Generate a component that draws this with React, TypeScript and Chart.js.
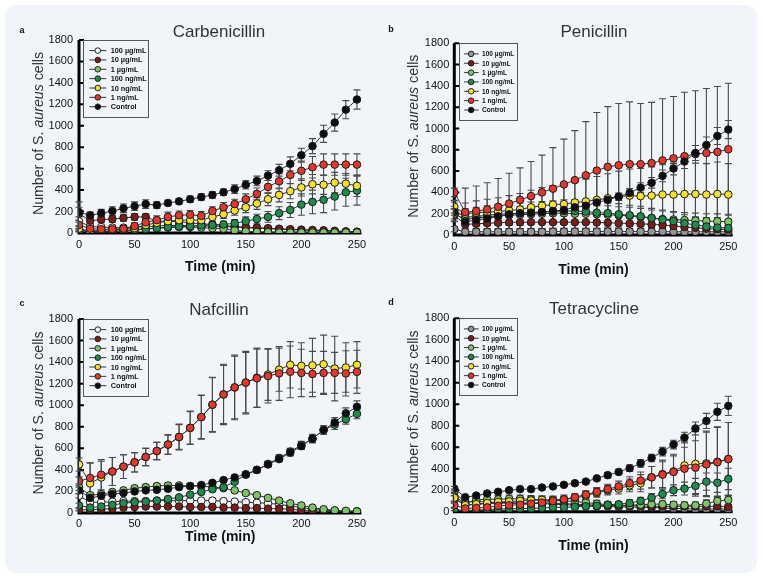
import React, { useEffect, useRef } from "react";
import { Chart, registerables } from "chart.js";

Chart.register(...registerables);

const FONT = "'Liberation Sans', Arial, Helvetica, sans-serif";

const TIME = [0, 10, 20, 30, 40, 50, 60, 70, 80, 90, 100, 110, 120, 130, 140, 150, 160, 170, 180, 190, 200, 210, 220, 230, 240, 250];
const X_TICKS = [0, 50, 100, 150, 200, 250];
const Y_TICKS = [0, 200, 400, 600, 800, 1000, 1200, 1400, 1600, 1800];
const SERIES_LABELS = ["100 µg/mL", "10 µg/mL", "1 µg/mL", "100 ng/mL", "10 ng/mL", "1 ng/mL", "Control"];
const PANEL_TITLES = ["Carbenicillin", "Penicillin", "Nafcillin", "Tetracycline"];
const PANEL_LETTERS = ["a", "b", "c", "d"];

// ---- a: Carbenicillin ----
const CARB_100UG = [110, 60, 55, 50, 50, 55, 60, 65, 70, 70, 70, 65, 65, 60, 55, 50, 45, 40, 35, 30, 30, 25, 20, 15, 12, 10];
const CARB_100UG_ERR = [40, 20, 20, 20, 20, 20, 20, 20, 20, 20, 20, 20, 20, 20, 20, 20, 15, 15, 15, 15, 15, 15, 12, 10, 10, 10];
const CARB_10UG = [180, 115, 125, 130, 140, 150, 150, 110, 110, 105, 95, 85, 80, 70, 60, 55, 50, 45, 40, 35, 30, 28, 25, 20, 15, 12];
const CARB_10UG_ERR = [60, 30, 30, 30, 30, 30, 30, 30, 30, 30, 30, 25, 25, 25, 25, 20, 20, 20, 20, 15, 15, 15, 15, 10, 10, 10];
const CARB_1UG = [30, 10, 10, 15, 20, 30, 40, 45, 50, 55, 55, 50, 45, 40, 25, 15, 10, 8, 5, 5, 5, 5, 5, 5, 5, 5];
const CARB_1UG_ERR = [15, 10, 10, 10, 10, 15, 15, 15, 15, 15, 15, 15, 15, 15, 10, 10, 8, 5, 5, 5, 5, 5, 5, 5, 5, 5];
const CARB_100NG = [25, 10, 10, 15, 20, 30, 35, 45, 55, 60, 65, 70, 75, 80, 90, 110, 130, 150, 185, 215, 265, 290, 310, 340, 380, 395];
const CARB_100NG_ERR = [15, 10, 10, 10, 10, 15, 15, 20, 20, 20, 25, 25, 25, 30, 35, 40, 45, 50, 60, 70, 100, 110, 120, 125, 130, 135];
const CARB_10NG = [40, 20, 25, 30, 35, 45, 75, 95, 110, 120, 120, 120, 150, 175, 210, 240, 275, 315, 355, 390, 425, 455, 450, 470, 460, 440];
const CARB_10NG_ERR = [20, 15, 15, 15, 15, 20, 25, 30, 35, 35, 35, 35, 40, 40, 45, 50, 55, 60, 65, 70, 80, 90, 90, 95, 95, 100];
const CARB_1NG = [75, 40, 35, 35, 40, 65, 100, 120, 150, 165, 170, 160, 205, 240, 270, 315, 365, 430, 482, 541, 580, 613, 638, 638, 638, 638];
const CARB_1NG_ERR = [40, 20, 20, 20, 20, 30, 35, 40, 45, 40, 40, 40, 40, 45, 45, 50, 55, 60, 70, 80, 90, 100, 100, 100, 100, 100];
const CARB_CONTROL = [195, 165, 185, 205, 230, 250, 270, 260, 280, 295, 315, 335, 355, 380, 410, 450, 485, 535, 585, 645, 725, 810, 925, 1030, 1150, 1245];
const CARB_CONTROL_ERR = [95, 30, 35, 40, 40, 40, 40, 30, 25, 25, 30, 30, 30, 30, 40, 40, 45, 45, 55, 65, 65, 70, 80, 80, 85, 90];

// ---- b: Penicillin ----
const PEN_100UG = [55, 30, 30, 30, 30, 30, 30, 30, 30, 32, 32, 32, 32, 32, 32, 32, 32, 32, 32, 32, 30, 30, 30, 30, 30, 30];
const PEN_100UG_ERR = [25, 30, 30, 30, 30, 30, 30, 30, 30, 30, 30, 30, 30, 30, 30, 30, 30, 30, 30, 30, 30, 30, 30, 30, 30, 30];
const PEN_10UG = [185, 100, 105, 110, 115, 118, 120, 120, 120, 120, 120, 120, 120, 118, 115, 112, 108, 105, 100, 95, 85, 75, 68, 60, 55, 50];
const PEN_10UG_ERR = [60, 50, 55, 55, 60, 60, 60, 60, 60, 60, 60, 60, 60, 60, 60, 60, 60, 60, 60, 55, 55, 50, 50, 45, 45, 45];
const PEN_1UG = [200, 145, 160, 170, 180, 185, 190, 195, 200, 205, 205, 200, 200, 195, 190, 185, 180, 170, 160, 150, 145, 140, 135, 130, 128, 125];
const PEN_1UG_ERR = [70, 70, 75, 75, 80, 80, 80, 80, 85, 85, 85, 85, 85, 85, 85, 80, 80, 80, 75, 75, 75, 70, 70, 70, 70, 70];
const PEN_100NG = [230, 165, 175, 185, 195, 200, 205, 210, 215, 220, 225, 225, 220, 210, 205, 195, 185, 175, 160, 145, 130, 110, 95, 80, 70, 65];
const PEN_100NG_ERR = [80, 80, 85, 90, 90, 95, 95, 100, 100, 100, 105, 105, 105, 100, 100, 100, 95, 95, 90, 90, 85, 80, 75, 70, 65, 60];
const PEN_10NG = [265, 200, 210, 215, 220, 230, 240, 260, 275, 285, 290, 305, 315, 330, 345, 360, 370, 365, 370, 380, 380, 385, 385, 380, 385, 380];
const PEN_10NG_ERR = [60, 100, 110, 120, 130, 140, 150, 160, 170, 180, 190, 200, 210, 220, 230, 240, 250, 260, 270, 280, 290, 290, 290, 290, 300, 290];
const PEN_1NG = [400, 215, 225, 240, 265, 295, 330, 365, 400, 435, 475, 515, 560, 605, 640, 655, 665, 665, 675, 700, 720, 740, 760, 770, 780, 805];
const PEN_1NG_ERR = [40, 225, 235, 250, 265, 285, 300, 325, 350, 385, 425, 465, 505, 545, 565, 580, 585, 570, 570, 580, 580, 600, 595, 605, 615, 620];
const PEN_CONTROL = [215, 125, 140, 155, 175, 195, 205, 210, 215, 225, 235, 260, 275, 305, 330, 360, 395, 445, 490, 555, 625, 690, 770, 845, 930, 990];
const PEN_CONTROL_ERR = [30, 25, 25, 25, 25, 25, 25, 25, 25, 25, 25, 30, 30, 30, 30, 35, 40, 45, 50, 55, 60, 65, 70, 75, 80, 85];

// ---- c: Nafcillin ----
const NAF_100UG = [160, 100, 100, 105, 110, 110, 110, 115, 115, 115, 115, 115, 115, 110, 105, 100, 95, 90, 80, 65, 50, 35, 25, 20, 15, 15];
const NAF_100UG_ERR = [20, 10, 10, 10, 10, 10, 10, 10, 10, 10, 10, 10, 10, 10, 10, 10, 10, 10, 10, 10, 10, 8, 8, 5, 5, 5];
const NAF_10UG = [30, 30, 35, 40, 50, 55, 60, 60, 60, 60, 55, 55, 55, 50, 50, 45, 45, 40, 40, 35, 25, 20, 15, 15, 15, 15];
const NAF_10UG_ERR = [10, 10, 10, 10, 10, 10, 10, 10, 10, 10, 10, 10, 10, 10, 10, 10, 10, 10, 10, 10, 8, 8, 5, 5, 5, 5];
const NAF_1UG = [240, 165, 175, 195, 210, 230, 240, 250, 255, 255, 250, 250, 240, 230, 210, 185, 165, 140, 115, 90, 70, 50, 35, 25, 20, 15];
const NAF_1UG_ERR = [30, 20, 20, 20, 20, 20, 20, 20, 20, 20, 20, 20, 20, 20, 20, 20, 15, 15, 15, 15, 15, 10, 10, 10, 8, 8];
const NAF_100NG = [70, 50, 60, 75, 90, 100, 105, 115, 130, 145, 170, 195, 220, 240, 290, 355, 400, 455, 510, 570, 630, 690, 770, 820, 870, 920];
const NAF_100NG_ERR = [20, 15, 15, 15, 15, 15, 15, 15, 15, 15, 15, 15, 20, 20, 20, 20, 25, 25, 30, 30, 35, 40, 40, 45, 45, 45];
const NAF_10NG = [450, 275, 330, 385, 430, 470, 520, 575, 635, 705, 790, 890, 1005, 1100, 1165, 1210, 1255, 1285, 1330, 1375, 1365, 1370, 1380, 1340, 1350, 1375];
const NAF_10NG_ERR = [60, 190, 150, 130, 110, 90, 80, 80, 90, 120, 155, 205, 255, 280, 300, 290, 275, 240, 200, 215, 215, 250, 270, 300, 230, 215];
const NAF_1NG = [295, 325, 355, 385, 430, 470, 520, 575, 635, 705, 790, 890, 1005, 1100, 1165, 1210, 1250, 1270, 1295, 1310, 1300, 1290, 1300, 1300, 1295, 1310];
const NAF_1NG_ERR = [40, 140, 140, 130, 110, 90, 80, 80, 90, 115, 150, 200, 250, 270, 290, 280, 270, 250, 250, 240, 220, 210, 200, 190, 210, 200];
const NAF_CONTROL = [210, 140, 160, 175, 185, 200, 210, 215, 225, 240, 250, 260, 280, 305, 330, 360, 400, 450, 500, 560, 620, 690, 770, 840, 925, 985];
const NAF_CONTROL_ERR = [30, 20, 20, 20, 20, 20, 20, 20, 20, 20, 20, 20, 20, 20, 20, 20, 20, 25, 25, 30, 30, 35, 40, 45, 50, 55];

// ---- d: Tetracycline ----
const TET_100UG = [180, 90, 95, 90, 85, 85, 80, 80, 75, 70, 65, 60, 55, 50, 50, 45, 45, 40, 40, 35, 30, 30, 25, 25, 25, 25];
const TET_100UG_ERR = [30, 20, 20, 20, 20, 20, 20, 20, 20, 20, 20, 20, 20, 20, 20, 20, 20, 20, 20, 20, 20, 20, 20, 20, 20, 20];
const TET_10UG = [120, 60, 70, 75, 80, 80, 75, 80, 80, 80, 75, 70, 65, 60, 60, 55, 55, 55, 50, 50, 50, 50, 50, 50, 50, 45];
const TET_10UG_ERR = [30, 25, 25, 25, 25, 25, 25, 25, 25, 25, 25, 25, 25, 25, 25, 25, 25, 25, 25, 25, 25, 25, 25, 25, 25, 25];
const TET_1UG = [140, 80, 110, 115, 115, 120, 120, 115, 110, 105, 100, 95, 85, 75, 65, 60, 60, 65, 70, 70, 65, 60, 60, 75, 100, 110];
const TET_1UG_ERR = [40, 30, 35, 35, 35, 35, 35, 35, 35, 35, 35, 35, 30, 30, 30, 30, 30, 30, 30, 30, 30, 30, 30, 35, 40, 45];
const TET_100NG = [20, 10, 15, 20, 25, 25, 30, 30, 35, 40, 40, 45, 50, 55, 65, 70, 80, 100, 130, 165, 200, 215, 240, 280, 270, 305];
const TET_100NG_ERR = [10, 10, 10, 10, 10, 10, 10, 10, 15, 15, 15, 15, 15, 20, 20, 25, 30, 35, 40, 45, 50, 60, 70, 80, 90, 100];
const TET_10NG = [130, 60, 70, 80, 90, 95, 100, 105, 110, 110, 115, 125, 150, 175, 200, 215, 245, 265, 320, 350, 375, 430, 445, 450, 465, 490];
const TET_10NG_ERR = [40, 30, 30, 30, 35, 35, 35, 35, 35, 35, 40, 40, 40, 40, 45, 50, 60, 80, 100, 130, 160, 220, 300, 300, 320, 340];
const TET_1NG = [60, 30, 35, 40, 55, 60, 65, 75, 85, 100, 115, 135, 160, 185, 210, 235, 265, 290, 320, 345, 370, 400, 410, 440, 460, 490];
const TET_1NG_ERR = [20, 15, 15, 15, 20, 20, 20, 25, 25, 30, 30, 30, 35, 40, 45, 50, 60, 80, 100, 120, 150, 200, 250, 300, 330, 340];
const TET_CONTROL = [215, 135, 150, 170, 185, 200, 210, 210, 225, 235, 250, 265, 280, 310, 340, 370, 405, 450, 500, 560, 625, 690, 775, 845, 930, 985];
const TET_CONTROL_ERR = [20, 15, 15, 15, 15, 15, 15, 15, 15, 15, 15, 20, 20, 20, 25, 25, 30, 35, 35, 40, 40, 50, 60, 70, 80, 90];

const COLORS_OPEN = ["#f4f4f4", "#7a1c17", "#7cc466", "#1f8b4c", "#f5e12c", "#e3372c", "#0d0d0d"];
const COLORS_GRAY = ["#969696", "#7a1c17", "#7cc466", "#1f8b4c", "#f5e12c", "#e3372c", "#0d0d0d"];

const PANEL_VALUES = [
  [CARB_100UG, CARB_10UG, CARB_1UG, CARB_100NG, CARB_10NG, CARB_1NG, CARB_CONTROL],
  [PEN_100UG, PEN_10UG, PEN_1UG, PEN_100NG, PEN_10NG, PEN_1NG, PEN_CONTROL],
  [NAF_100UG, NAF_10UG, NAF_1UG, NAF_100NG, NAF_10NG, NAF_1NG, NAF_CONTROL],
  [TET_100UG, TET_10UG, TET_1UG, TET_100NG, TET_10NG, TET_1NG, TET_CONTROL],
];
const PANEL_ERRORS = [
  [CARB_100UG_ERR, CARB_10UG_ERR, CARB_1UG_ERR, CARB_100NG_ERR, CARB_10NG_ERR, CARB_1NG_ERR, CARB_CONTROL_ERR],
  [PEN_100UG_ERR, PEN_10UG_ERR, PEN_1UG_ERR, PEN_100NG_ERR, PEN_10NG_ERR, PEN_1NG_ERR, PEN_CONTROL_ERR],
  [NAF_100UG_ERR, NAF_10UG_ERR, NAF_1UG_ERR, NAF_100NG_ERR, NAF_10NG_ERR, NAF_1NG_ERR, NAF_CONTROL_ERR],
  [TET_100UG_ERR, TET_10UG_ERR, TET_1UG_ERR, TET_100NG_ERR, TET_10NG_ERR, TET_1NG_ERR, TET_CONTROL_ERR],
];
const PANEL_COLORS = [COLORS_OPEN, COLORS_GRAY, COLORS_OPEN, COLORS_GRAY];

// layout per panel (canvas-relative pixels)
const CW = 381;
const CH = 290;
const X_MAX = 254;
const LAYOUT = [
  { ox: 0, oy: 0, left: 79, top: 40, right: 361.4, bottom: 233, titleX: 219, titleY: 32, letterX: 22, letterY: 31, xTitleOff: 34, xTickPad: 5, yTickPad: 6, leg: { w: 65, l0: 6, l1: 23, mx: 14.5, tx: 27.4, fs: 7.3 } },
  { ox: 381, oy: 0, left: 73.3, top: 43.3, right: 351.7, bottom: 235, titleX: 213, titleY: 32, letterX: 10, letterY: 30, xTitleOff: 35, xTickPad: 5, yTickPad: 5, leg: { w: 58, l0: 5.5, l1: 20, mx: 12.5, tx: 23.4, fs: 6.6 } },
  { ox: 0, oy: 289, left: 79, top: 30, right: 361.4, bottom: 224, titleX: 219, titleY: 21, letterX: 22, letterY: 15, xTitleOff: 24, xTickPad: 4, yTickPad: 6, leg: { w: 65, l0: 6, l1: 23, mx: 14.5, tx: 27.4, fs: 7.3 } },
  { ox: 381, oy: 289, left: 73.3, top: 29.3, right: 351.7, bottom: 222.7, titleX: 213, titleY: 20, letterX: 10, letterY: 14, xTitleOff: 34, xTickPad: 5, yTickPad: 5, leg: { w: 58, l0: 5.5, l1: 20, mx: 12.5, tx: 23.4, fs: 6.6 } },
];

const decoPlugin = {
  id: "deco",
  beforeDatasetsDraw(chart: any) {
    const { ctx, chartArea: ca } = chart;
    const ys = chart.scales.y;
    const xs = chart.scales.x;
    ctx.save();
    // axes
    ctx.strokeStyle = "#000";
    ctx.lineWidth = 3;
    ctx.beginPath();
    ctx.moveTo(ca.left, ca.top);
    ctx.lineTo(ca.left, ca.bottom);
    ctx.lineTo(ca.right, ca.bottom);
    ctx.stroke();
    ctx.lineWidth = 2;
    ctx.beginPath();
    Y_TICKS.forEach((v) => {
      const py = ys.getPixelForValue(v);
      ctx.moveTo(ca.left, py);
      ctx.lineTo(ca.left + 5, py);
    });
    X_TICKS.forEach((v) => {
      const px = xs.getPixelForValue(v);
      ctx.moveTo(px, ca.bottom);
      ctx.lineTo(px, ca.bottom - 5);
    });
    ctx.stroke();
    ctx.restore();

    // error bars
    ctx.save();
    ctx.beginPath();
    ctx.rect(ca.left - 5, ca.top - 3, ca.right - ca.left + 10, ca.bottom - ca.top + 3);
    ctx.clip();
    ctx.strokeStyle = "#4a4a4a";
    ctx.lineWidth = 1.1;
    chart.data.datasets.forEach((ds: any, i: number) => {
      const meta = chart.getDatasetMeta(i);
      meta.data.forEach((pt: any, j: number) => {
        const v = ds.data[j].y;
        const e = ds.errors[j];
        const x = pt.x;
        const y1 = ys.getPixelForValue(v + e);
        const y2 = ys.getPixelForValue(Math.max(v - e, 0));
        ctx.beginPath();
        ctx.moveTo(x, y1);
        ctx.lineTo(x, y2);
        ctx.moveTo(x - 3.5, y1);
        ctx.lineTo(x + 3.5, y1);
        if (v - e >= 0) {
          ctx.moveTo(x - 3.5, y2);
          ctx.lineTo(x + 3.5, y2);
        }
        ctx.stroke();
      });
    });
    ctx.restore();
  },
  afterDraw(chart: any, _args: any, o: any) {
    const { ctx, chartArea: ca } = chart;
    const L = o.layout;
    ctx.save();
    // panel letter
    ctx.fillStyle = "#111";
    ctx.font = `bold 9px ${FONT}`;
    ctx.textAlign = "center";
    ctx.textBaseline = "middle";
    ctx.fillText(o.letter, L.letterX, L.letterY);
    // title
    ctx.fillStyle = "#333";
    ctx.font = `17px ${FONT}`;
    ctx.fillText(o.title, L.titleX, L.titleY);
    // x title
    ctx.fillStyle = "#111";
    ctx.font = `bold 14px ${FONT}`;
    ctx.fillText("Time (min)", (ca.left + ca.right) / 2, ca.bottom + L.xTitleOff);
    // y title with italic species
    const parts = [
      { t: "Number of S. ", f: `14.2px ${FONT}` },
      { t: "aureus", f: `italic 14.2px ${FONT}` },
      { t: " cells", f: `14.2px ${FONT}` },
    ];
    let total = 0;
    parts.forEach((p) => {
      ctx.font = p.f;
      total += ctx.measureText(p.t).width;
    });
    ctx.save();
    ctx.translate(ca.left - 40, (ca.top + ca.bottom) / 2 - 3);
    ctx.rotate(-Math.PI / 2);
    ctx.fillStyle = "#333";
    ctx.textAlign = "left";
    let xx = -total / 2;
    parts.forEach((p) => {
      ctx.font = p.f;
      ctx.fillText(p.t, xx, 0);
      xx += ctx.measureText(p.t).width;
    });
    ctx.restore();

    // legend
    const lg = L.leg;
    const lx = ca.left + 4.3;
    const ly = ca.top;
    const lh = 77;
    ctx.strokeStyle = "#555";
    ctx.lineWidth = 1;
    ctx.strokeRect(Math.round(lx) + 0.5, Math.round(ly) + 0.5, lg.w, lh);
    SERIES_LABELS.forEach((lab, i) => {
      const ry = ly + 10.6 + i * 9.35;
      ctx.strokeStyle = "#333";
      ctx.lineWidth = 1;
      ctx.beginPath();
      ctx.moveTo(lx + lg.l0, ry);
      ctx.lineTo(lx + lg.l1, ry);
      ctx.stroke();
      ctx.beginPath();
      ctx.arc(lx + lg.mx, ry, 2.8, 0, Math.PI * 2);
      ctx.fillStyle = o.colors[i];
      ctx.fill();
      ctx.strokeStyle = "#222";
      ctx.stroke();
      ctx.fillStyle = "#111";
      ctx.font = `bold ${lg.fs}px ${FONT}`;
      ctx.textAlign = "left";
      ctx.textBaseline = "middle";
      ctx.fillText(lab, lx + lg.tx, ry + 0.5);
    });
    ctx.restore();
  },
};

function Panel({ idx }: { idx: number }) {
  const ref = useRef<HTMLCanvasElement>(null);
  const L = LAYOUT[idx];
  useEffect(() => {
    const values = PANEL_VALUES[idx];
    const errors = PANEL_ERRORS[idx];
    const colors = PANEL_COLORS[idx];
    const datasets = values.map((vals, i) => ({
      label: SERIES_LABELS[i],
      data: TIME.map((t, j) => ({ x: t, y: vals[j] })),
      errors: errors[i],
      order: values.length - i,
      borderColor: "#333",
      borderWidth: 1,
      pointRadius: 3.8,
      pointHoverRadius: 3.8,
      pointBackgroundColor: colors[i],
      pointBorderColor: "#1a1a1a",
      pointBorderWidth: 1,
      fill: false,
      tension: 0,
    }));
    const chart = new Chart(ref.current as HTMLCanvasElement, {
      type: "line",
      data: { datasets } as any,
      plugins: [decoPlugin as any],
      options: {
        responsive: false,
        animation: false,
        devicePixelRatio: 1,
        layout: { padding: { left: 0, top: L.top, right: CW - L.right, bottom: 0 } },
        plugins: {
          legend: { display: false },
          title: { display: false },
          tooltip: { enabled: false },
          deco: { layout: L, letter: PANEL_LETTERS[idx], title: PANEL_TITLES[idx], colors },
        } as any,
        scales: {
          x: {
            type: "linear",
            min: 0,
            max: X_MAX,
            grid: { display: false, drawTicks: false },
            border: { display: false },
            afterBuildTicks: (s: any) => {
              s.ticks = X_TICKS.map((v) => ({ value: v }));
            },
            afterFit: (s: any) => {
              s.height = CH - L.bottom;
            },
            ticks: {
              font: { size: 11, family: FONT },
              color: "#111",
              padding: L.xTickPad,
              maxRotation: 0,
              autoSkip: false,
              callback: (v: any) => String(v),
            },
          },
          y: {
            type: "linear",
            min: 0,
            max: 1800,
            grid: { display: false, drawTicks: false },
            border: { display: false },
            afterBuildTicks: (s: any) => {
              s.ticks = Y_TICKS.map((v) => ({ value: v }));
            },
            afterFit: (s: any) => {
              s.width = L.left;
            },
            ticks: {
              font: { size: 11, family: FONT },
              color: "#111",
              padding: L.yTickPad,
              autoSkip: false,
              callback: (v: any) => String(v),
            },
          },
        } as any,
      },
    });
    return () => chart.destroy();
  }, [idx]);
  return (
    <canvas
      ref={ref}
      width={CW}
      height={CH}
      style={{ position: "absolute", left: L.ox, top: L.oy, width: CW, height: CH }}
    />
  );
}

export default function App() {
  return (
    <div style={{ position: "fixed", left: 0, top: 0, width: 762, height: 579, background: "#ffffff", overflow: "hidden" }}>
      <div style={{ position: "absolute", left: 5, top: 5, width: 752, height: 568, background: "#f1f5fa", borderRadius: 12 }} />
      {[0, 1, 2, 3].map((i) => (
        <Panel key={i} idx={i} />
      ))}
    </div>
  );
}
